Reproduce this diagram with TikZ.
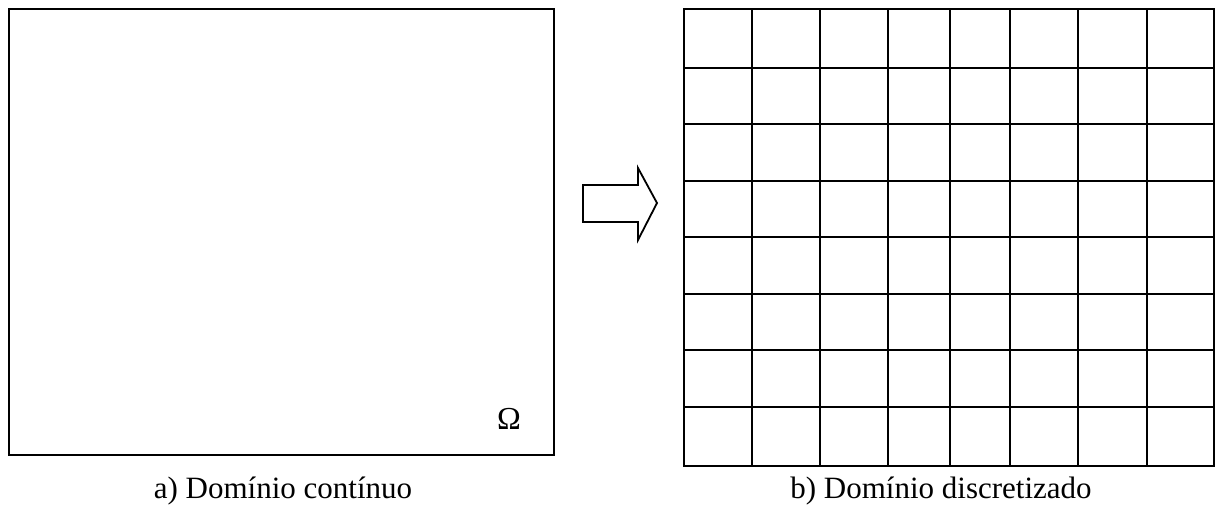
\documentclass[tikz,border=0pt]{standalone}
\usepackage{fontspec}
\setmainfont{Liberation Serif}
\begin{document}
\begin{tikzpicture}[x=1pt,y=-1pt,
  frame/.style={draw=black,line width=2.5pt},
  gridline/.style={draw=black,line width=2.5pt},
  caption/.style={font=\fontsize{31}{36}\selectfont,anchor=base,inner sep=0pt},
  bigarrow/.style={draw=black,line width=1.8pt,line join=miter}]
\useasboundingbox (0,0) rectangle (1216,504);
% left domain
\draw[frame] (9,9) rectangle (554,455);
\node[font=\fontsize{32}{36}\selectfont,anchor=base west,inner sep=0pt] (omega) at (497,429) {Ω};
\node[caption] (capa) at (283,498) {a) Domínio contínuo};
% arrow
\draw[bigarrow] (583,185) -- (638,185) -- (638,168) -- (657,203) -- (638,240) -- (638,222) -- (583,222) -- cycle;
% grid
\foreach \x in {752,820,888,950,1010,1078,1147} \draw[gridline] (\x,9) -- (\x,466);
\foreach \y in {68,124,181,237,294,350,407} \draw[gridline] (684,\y) -- (1215,\y);
\draw[frame] (684,9) rectangle (1214,466);
\node[caption] (capb) at (941,498) {b) Domínio discretizado};
\end{tikzpicture}
\end{document}
